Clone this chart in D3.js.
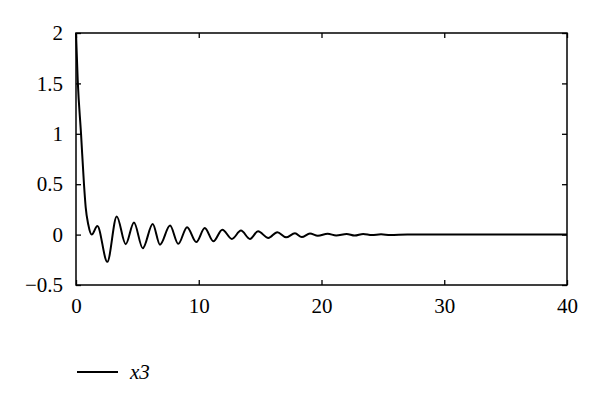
<!DOCTYPE html>
<html><head><meta charset="utf-8">
<script src="https://cdn.jsdelivr.net/npm/d3@7"></script>
<style>body{margin:0;background:#fff}svg{display:block}
text{font-family:"Liberation Serif","DejaVu Serif","Times New Roman",serif !important;}</style>
</head><body>
<svg id="c" width="600" height="405"></svg>
<script>
const seriesName = "x3";
const tValues = [0, 0.14, 0.41, 0.65, 0.79, 1.0, 1.28, 1.74, 2.55, 3.32, 4.05, 4.72, 5.44, 6.25, 6.84, 7.66, 8.33, 9.05, 9.8, 10.49, 11.19, 11.92, 12.7, 13.44, 14.17, 14.83, 15.67, 16.4, 17.11, 17.84, 18.39, 19.06, 19.7, 20.5, 21.2, 22.05, 22.7, 23.4, 24.1, 24.85, 25.6, 27, 40];
const x3Values = [2.0, 1.53, 1.0, 0.5, 0.27, 0.1, 0.0, 0.085, -0.27, 0.18, -0.095, 0.12, -0.135, 0.105, -0.10, 0.09, -0.092, 0.074, -0.074, 0.065, -0.066, 0.049, -0.043, 0.04, -0.043, 0.033, -0.033, 0.024, -0.027, 0.013, -0.025, 0.01, -0.012, 0.008, -0.008, 0.006, -0.01, 0.006, -0.005, 0.003, -0.004, 0, 0];
const xTicks = [0, 10, 20, 30, 40];
const yTicks = [-0.5, 0, 0.5, 1, 1.5, 2];

const svg = d3.select("#c");
const L = 76, R = 567, T = 33, B = 285;
const x = d3.scaleLinear().domain([0, 40]).range([L, R]);
const y = d3.scaleLinear().domain([-0.5, 2]).range([B, T]);
const font = '"Liberation Serif","DejaVu Serif",serif';
const fmt = d3.format("");

const data = tValues.map((t, i) => [t, x3Values[i]]);

svg.append("path").datum(data)
  .attr("fill", "none").attr("stroke", "#000").attr("stroke-width", 2)
  .attr("stroke-linejoin", "round")
  .attr("d", d3.line().x(d => x(d[0])).y(d => y(d[1])).curve(d3.curveMonotoneX));

function style(g, labels) {
  g.select(".domain").remove();
  g.attr("font-family", font).attr("font-size", 21);
  g.selectAll(".tick line").attr("stroke", "#000").attr("stroke-width", 1.3);
  if (!labels) g.selectAll(".tick text").remove();
  else g.selectAll(".tick text").attr("fill", "#000").attr("font-family", font).attr("font-size", 21);
}
svg.append("g").attr("transform", `translate(0,${B})`)
  .call(d3.axisBottom(x).tickValues(xTicks).tickFormat(fmt).tickSizeInner(-5).tickSizeOuter(0).tickPadding(13))
  .call(g => style(g, true));
svg.append("g").attr("transform", `translate(0,${T})`)
  .call(d3.axisTop(x).tickValues(xTicks).tickSizeInner(-5).tickSizeOuter(0))
  .call(g => style(g, false));
svg.append("g").attr("transform", `translate(${L},0)`)
  .call(d3.axisLeft(y).tickValues(yTicks).tickFormat(fmt).tickSizeInner(-5).tickSizeOuter(0).tickPadding(13))
  .call(g => style(g, true));
svg.append("g").attr("transform", `translate(${R},0)`)
  .call(d3.axisRight(y).tickValues(yTicks).tickSizeInner(-5).tickSizeOuter(0))
  .call(g => style(g, false));

svg.append("rect").attr("x", L).attr("y", T).attr("width", R - L).attr("height", B - T)
  .attr("fill", "none").attr("stroke", "#000").attr("stroke-width", 1.5);

// legend
svg.append("line").attr("x1", 77).attr("x2", 118).attr("y1", 372).attr("y2", 372)
  .attr("stroke", "#000").attr("stroke-width", 1.8);
svg.append("text").attr("x", 130).attr("y", 379)
  .attr("font-family", font).attr("font-size", 21).attr("font-style", "italic")
  .text(seriesName);
</script>
</body></html>
